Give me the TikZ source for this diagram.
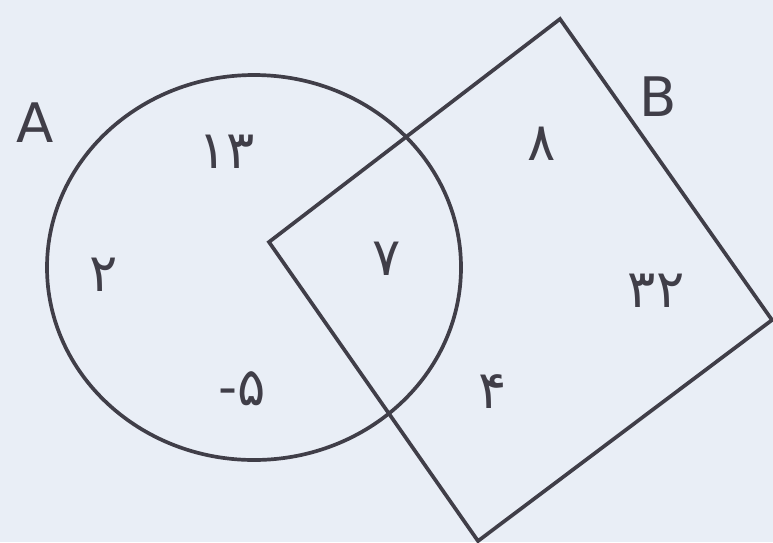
\documentclass[tikz,border=0pt]{standalone}
\usepackage{fontspec}
\setmainfont{DejaVu Sans}
\newfontfamily\persianfont[Script=Arabic]{DejaVu Sans}
\usetikzlibrary{positioning}
\definecolor{paper}{RGB}{233,238,246}
\definecolor{ink}{RGB}{64,62,72}

\begin{document}
\begin{tikzpicture}[
    x=0.02cm, y=-0.02cm,
    outline/.style={draw=ink, line width=2.1pt, line join=miter},
    setname/.style={text=ink, font=\fontsize{31}{33}\selectfont, inner sep=0pt},
    num/.style={text=ink, font=\persianfont\fontsize{30}{33}\selectfont, inner sep=0pt}
  ]
    \fill[paper] (0,0) rectangle (773,542);
    \useasboundingbox (0,0) rectangle (773,542);

    % set A
    \coordinate (ca) at (254,267.5);
    \draw[outline] (ca) ellipse [x radius=207, y radius=192.5];

    % set B
    \coordinate (bt) at (560,19);
    \coordinate (br) at (772,320);
    \coordinate (bb) at (478,541);
    \coordinate (bl) at (269,242);
    \draw[outline] (bt) -- (br) -- (bb) -- (bl) -- cycle;

    \node[setname] (la) at (35,123) {A};
    \node[setname] (lb) at (658,97) {B};

    \node[num] (n13) at (227,152) {۱۳};
    \node[num] (n2) at (104,275) {۲};
    \node[num] (n7) at (387,259) {۷};
    \node[num] (n5) at (242,389) {{\rmfamily-}۵};
    \node[num] (n8) at (542,144) {۸};
    \node[num] (n32) at (656,291) {۳۲};
    \node[num] (n4) at (493,392) {۴};
  \end{tikzpicture}
\end{document}
